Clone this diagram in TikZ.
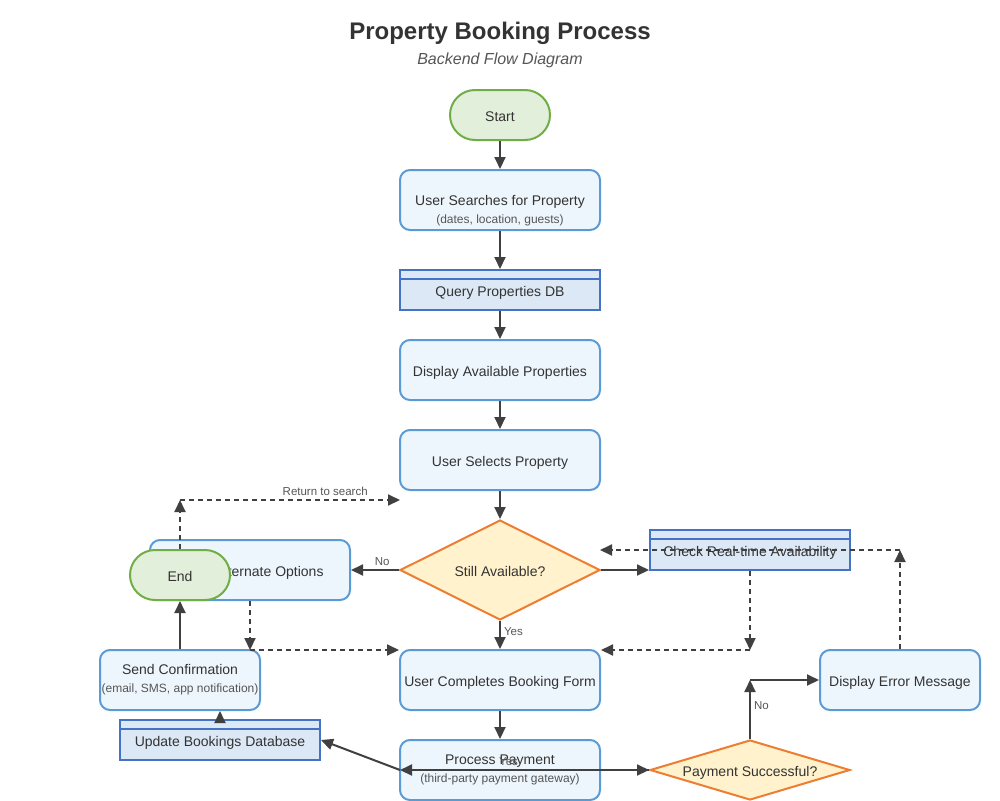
\documentclass[tikz,border=0pt]{standalone}
\usepackage{fontspec}
\setmainfont{Liberation Sans}
\usetikzlibrary{arrows.meta,shapes.geometric}
\definecolor{txt}{HTML}{333333}
\definecolor{sub}{HTML}{555555}
\definecolor{linec}{HTML}{404040}
\definecolor{procfill}{HTML}{EEF6FD}
\definecolor{procline}{HTML}{5B9BD5}
\definecolor{dbfill}{HTML}{DCE8F5}
\definecolor{dbline}{HTML}{4472C4}
\definecolor{decfill}{HTML}{FFF2CC}
\definecolor{decline}{HTML}{ED7D31}
\definecolor{termfill}{HTML}{E2EFDA}
\definecolor{termline}{HTML}{70AD47}
\tikzset{
  base/.style={line width=2pt, inner sep=0pt, text=txt, align=center, font=\fontsize{14}{17}\selectfont},
  oneline/.style={text height=13.5pt, text depth=0pt},
  proc/.style={base, draw=procline, fill=procfill, rounded corners=10pt, minimum width=200pt, minimum height=60pt},
  dbbox/.style={base, oneline, draw=dbline, fill=dbfill, minimum width=200pt, minimum height=40pt},
  dec/.style={base, oneline, diamond, draw=decline, fill=decfill, minimum width=200pt},
  term/.style={base, oneline, draw=termline, fill=termfill, rounded corners=25pt, minimum width=100pt, minimum height=50pt},
  lbl/.style={font=\fontsize{11.5}{13}\selectfont, text=sub, inner sep=3pt},
  conn/.style={draw=linec, line width=2pt, -{Triangle[length=12pt,width=11pt]}},
  dconn/.style={conn, dash pattern=on 5pt off 4pt},
  dbsep/.style={draw=dbline, line width=2pt}
}
\newcommand{\smalltxt}[1]{{\fontsize{12}{14}\selectfont\color{sub}#1}}
\begin{document}
\begin{tikzpicture}[x=1pt,y=-1pt]
\useasboundingbox (0,0) rectangle (1000,800);
% titles
\node[font=\bfseries\fontsize{24}{28}\selectfont, text=txt] (title) at (500,33) {Property Booking Process};
\node[font=\itshape\fontsize{16}{19}\selectfont, text=sub] (subtitle) at (500,60) {Backend Flow Diagram};
% nodes
\node[term] (start) at (500,115) {Start};
\node[proc] (search) at (500,200) {};
\node[base, inner sep=0pt] (searcht) at (500,211) {User Searches for Property\\[1pt]\smalltxt{(dates, location, guests)}};
\node[dbbox] (query) at (500,290) {Query Properties DB};
\draw[dbsep] ([yshift=-10pt]query.north west) -- ([yshift=-10pt]query.north east);
\node[proc, oneline] (disp) at (500,370) {Display Available Properties};
\node[proc, oneline] (sel) at (500,460) {User Selects Property};
\node[dec, minimum height=100pt, shape aspect=2] (still) at (500,570) {Still Available?};
\node[dbbox] (check) at (750,550) {Check Real-time Availability};
\draw[dbsep] ([yshift=-10pt]check.north west) -- ([yshift=-10pt]check.north east);
\node[proc, oneline] (alt) at (250,570) {Show Alternate Options};
\node[term] (endn) at (180,575) {End};
\node[proc, minimum width=160pt] (send) at (180,680) {Send Confirmation\\[1pt]\smalltxt{(email, SMS, app notification)}};
\node[dbbox] (upd) at (220,740) {Update Bookings Database};
\draw[dbsep] ([yshift=-10pt]upd.north west) -- ([yshift=-10pt]upd.north east);
\node[proc, oneline] (complete) at (500,680) {User Completes Booking Form};
\node[proc] (pay) at (500,770) {Process Payment\\[1pt]\smalltxt{(third-party payment gateway)}};
\node[dec, minimum height=60pt, shape aspect=3.33] (psucc) at (750,770) {Payment Successful?};
\node[proc, oneline, minimum width=160pt] (err) at (900,680) {Display Error Message};
% coordinates
\coordinate (rc) at (180,500);
\coordinate (rr) at (400,500);
\coordinate (ad) at (250,650);
\coordinate (cd) at (750,650);
\coordinate (eu) at (900,550);
\coordinate (eb) at (600,550);
\coordinate (pe) at (750,680);
\coordinate (pw) at (400,770);
\coordinate (pE) at (600,770);
% connectors
\draw[conn] (start) -- (search);
\draw[conn] (search) -- (query);
\draw[conn] (query) -- (disp);
\draw[conn] (disp) -- (sel);
\draw[conn] (sel) -- (still);
\draw[conn] (still.west) -- node[lbl, above, pos=0.35] {No} (alt.east);
\draw[conn] (still.east) -- (still.east -| check.west);
\draw[conn] (still.south) -- node[lbl, right, pos=0.37] {Yes} (complete.north);
\draw[dconn] (endn.north) -- (rc);
\draw[dconn] (rc) -- node[lbl, above, pos=0.66] {Return to search} (rr);
\draw[dconn] (alt.south) -- (ad);
\draw[dconn] (ad) -- (ad -| complete.west);
\draw[dconn] (check.south) -- (cd);
\draw[dconn] (cd) -- (cd -| complete.east);
\draw[dconn] (err.north) -- (eu);
\draw[dconn] (eu) -- (eb);
\draw[conn] (complete) -- (pay);
\draw[conn] (pE) -- (psucc.west);
\draw[conn] (psucc.west) -- node[lbl, above, pos=0.564] {Yes} (pw);
\draw[conn] (pw) -- (upd.east);
\draw[conn] (psucc.north) -- node[lbl, right, pos=0.57] {No} (pe);
\draw[conn] (pe) -- (err.west);
\draw[conn] (send.north -| endn) -- (endn);
\draw[conn] (upd.north) -- (upd.north |- send.south);
\end{tikzpicture}
\end{document}
